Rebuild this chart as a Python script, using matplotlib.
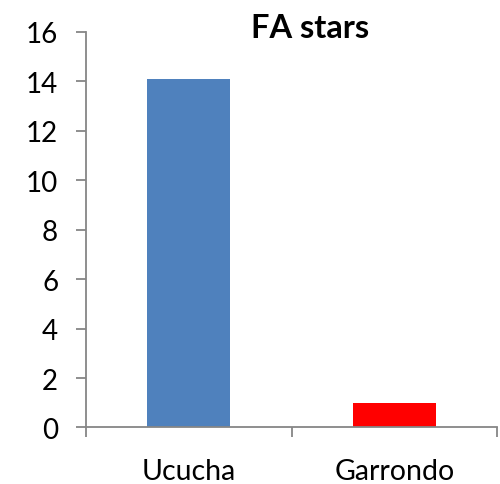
import matplotlib
matplotlib.use('Agg')
import matplotlib.pyplot as plt

categories = ["Ucucha", "Garrondo"]
values = [14.1, 1.0]
colors = ['#4F81BD', '#FF0000']
yticks = [0, 2, 4, 6, 8, 10, 12, 14, 16]

plt.rcParams['font.family'] = ['Lato', 'DejaVu Sans']

fig = plt.figure(figsize=(5, 4.85), dpi=100)
ax = fig.add_axes([0.172, 0.1165, 0.822, 0.8155])

x = range(len(categories))
ax.bar(x, values, width=0.405, color=colors)

ax.set_xlim(-0.5, len(categories) - 0.5)
ax.set_ylim(0, 16)
ax.set_yticks(yticks)
ax.set_yticklabels([str(v) for v in yticks], fontsize=20)

# category labels between boundary ticks, like Excel
ax.set_xticks([-0.5, 0.5, 1.5])
ax.set_xticklabels([])
ax.set_xticks(list(x), minor=True)
ax.set_xticklabels(categories, minor=True, fontsize=20.5)
ax.tick_params(axis='x', which='minor', length=0, pad=22)

for s in ['top', 'right']:
    ax.spines[s].set_visible(False)
for s in ['left', 'bottom']:
    ax.spines[s].set_color('#868686')
    ax.spines[s].set_linewidth(1.3)
ax.tick_params(axis='both', which='major', color='#868686', length=7, width=1.3)
ax.tick_params(axis='y', pad=13)

fig.text(0.62, 0.942, "FA stars", ha='center', va='center', fontsize=23.5, fontweight='bold')

fig.savefig('out.png', dpi=100)
